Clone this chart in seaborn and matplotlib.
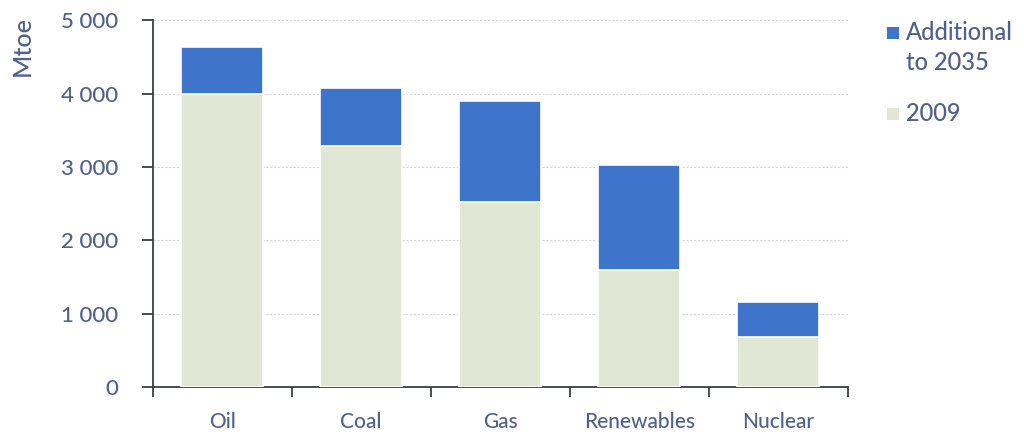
import matplotlib
matplotlib.use("Agg")
import matplotlib.pyplot as plt
import seaborn as sns
import pandas as pd
from matplotlib.patches import Rectangle
from matplotlib.ticker import FixedLocator

# Primary energy demand by fuel, Mtoe
fuels = ["Oil", "Coal", "Gas", "Renewables", "Nuclear"]
demand_2009 = [4000, 3280, 2520, 1590, 680]
additional_2035 = [630, 790, 1380, 1435, 480]
y_ticks = [0, 1000, 2000, 3000, 4000, 5000]
y_tick_labels = ["0", "1 000", "2 000", "3 000", "4 000", "5 000"]
legend_labels = ["Additional\nto 2035", "2009"]

sns.set_theme(style="white")
plt.rcParams["font.family"] = ["Lato", "DejaVu Sans"]
plt.rcParams["font.weight"] = "medium"

blue = "#3F74CB"
beige = "#E2E6D4"
text_col = "#50618A"
axis_col = "#3a3f46"

df = pd.DataFrame({
    "fuel": fuels,
    "base": demand_2009,
    "total": [b + a for b, a in zip(demand_2009, additional_2035)],
})

W, H = 1024, 437
fig = plt.figure(figsize=(W / 100, H / 100), dpi=100)
ax = fig.add_axes([0.149, 0.114, 0.679, 0.840])

sns.barplot(data=df, x="fuel", y="total", color=blue, saturation=1,
            width=0.59, edgecolor="white", linewidth=1.2, ax=ax, zorder=2)
sns.barplot(data=df, x="fuel", y="base", color=beige, saturation=1,
            width=0.59, edgecolor="white", linewidth=1.2, ax=ax, zorder=3)

ax.set_xlim(-0.5, 4.5)
ax.set_ylim(0, 5000)
ax.set_xlabel("")
ax.set_ylabel("")

ax.set_yticks(y_ticks)
ax.set_yticklabels(y_tick_labels)
for y in y_ticks[1:]:
    ax.axhline(y, color="#d4d6dc", linestyle=(0, (2, 1.5)), linewidth=0.8, zorder=1)

ax.xaxis.set_minor_locator(FixedLocator([i - 0.5 for i in range(len(fuels) + 1)]))
ax.tick_params(axis="x", which="major", length=0, pad=18, labelsize=15, labelcolor=text_col)
ax.tick_params(axis="x", which="minor", direction="out", length=7, width=1.3, color=axis_col, bottom=True)
ax.tick_params(axis="y", which="major", direction="out", length=8, width=1.3, color=axis_col,
               left=True, pad=17, labelsize=16, labelcolor=text_col)

for side in ["top", "right"]:
    ax.spines[side].set_visible(False)
for side in ["left", "bottom"]:
    ax.spines[side].set_color(axis_col)
    ax.spines[side].set_linewidth(1.3)

fig.text(22 / W, 1 - 46 / H, "Mtoe", rotation=90, ha="center", va="center",
         fontsize=18, color=text_col)

# Legend: square swatches with labels beside them
sq = 12
legend_rows = [(blue, legend_labels[0], 33), (beige, legend_labels[1], 114)]
for colour, label, yc in legend_rows:
    fig.add_artist(Rectangle((887 / W, 1 - (yc + sq / 2) / H), sq / W, sq / H,
                             transform=fig.transFigure, facecolor=colour,
                             edgecolor="none"))
    fig.text(906 / W, 1 - (yc - 12) / H, label, ha="left", va="top",
             fontsize=17, color=text_col, linespacing=1.35)

fig.savefig("out.png", dpi=100)
